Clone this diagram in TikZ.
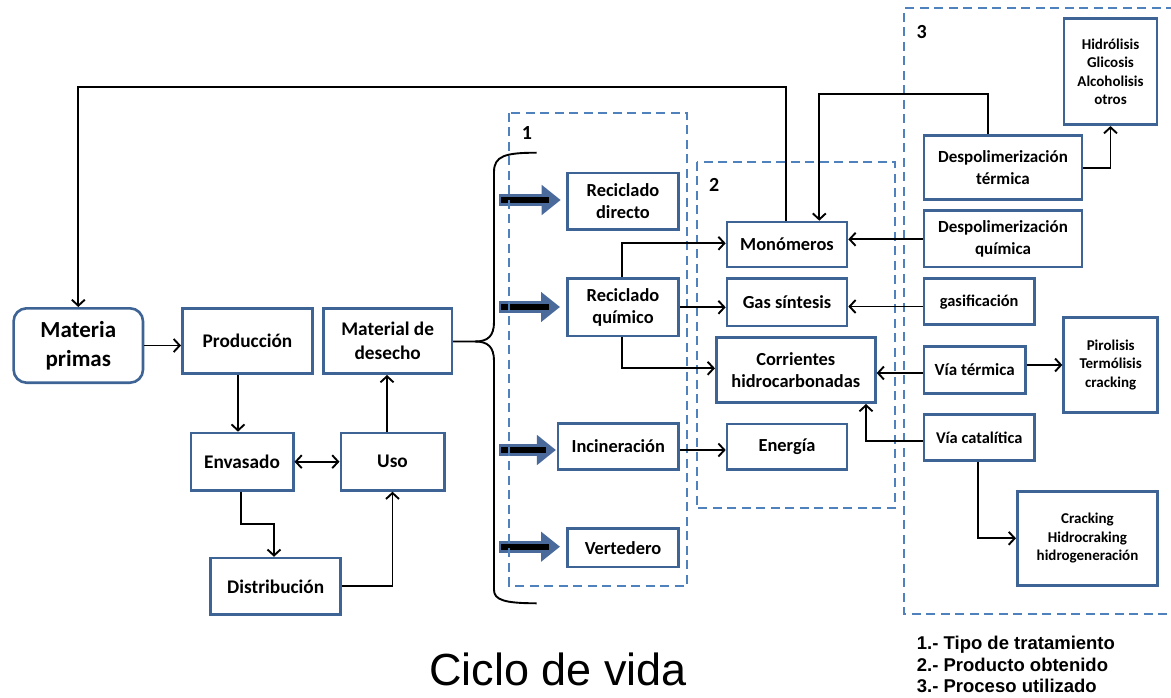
\documentclass[tikz,border=0pt]{standalone}
\usepackage{fontspec}
\setmainfont{Carlito}
\newfontfamily\arialf{Liberation Sans}
\usetikzlibrary{arrows.meta,calc}
\definecolor{boxblue}{HTML}{3E6496}
\definecolor{dashblue}{HTML}{4F81BD}
\definecolor{fatblue}{HTML}{4A6A9C}
\begin{document}
\begin{tikzpicture}[x=1pt,y=-1pt,
  box/.style={draw=boxblue, line width=2.6pt, fill=white, align=center, inner sep=0pt,
    font=\bfseries\fontsize{18.4}{22.5}\selectfont},
  lbox/.style={box, font=\bfseries\fontsize{19.3}{23.5}\selectfont},
  rbox/.style={box, font=\bfseries\fontsize{17}{21.5}\selectfont},
  sbox/.style={box, font=\bfseries\fontsize{15}{18.5}\selectfont},
  sz/.style 2 args={minimum width=#1pt-2.6pt, minimum height=#2pt-2.6pt},
  barb/.tip={Straight Barb[length=6pt,width=13pt,line width=1.9pt]},
  conn/.style={line width=1.9pt, -barb},
  dbox/.style={draw=dashblue, line width=2pt, dash pattern=on 9pt off 5.5pt},
  fatb/.style={line width=12pt, color=fatblue, -{Triangle[length=19pt,width=29pt]}},
  fatin/.style={line width=6pt, color=black},
  lbl/.style={font=\bfseries\fontsize{20}{24}\selectfont, inner sep=0pt},
  legend/.style={font=\arialf\bfseries\fontsize{18.5}{22}\selectfont, anchor=base west, inner sep=0pt},
  title/.style={font=\arialf\fontsize{45}{50}\selectfont, anchor=base, inner sep=0pt}
]
\useasboundingbox (0,0) rectangle (1171,698);

% nodes
\node[box, sz={132}{77}, rounded corners=13pt, font=\bfseries\fontsize{23}{28.5}\selectfont] (mp) at (78.3,345.5) {Materia\\primas};
\node[lbox, sz={133}{68}] (prod) at (247.5,341) {Producción};
\node[lbox, sz={131}{68}] (mdd) at (387.7,341) {Material de\\desecho};
\node[lbox, sz={105}{60}] (env) at (242,461.7) {Envasado};
\node[lbox, sz={106}{60}] (uso) at (392.5,461.7) {Uso};
\node[lbox, sz={132.6}{59}] (dist) at (275.7,586.3) {Distribución};

\node[box, sz={114}{59}] (rd) at (623,201.2) {Reciclado\\directo};
\node[box, sz={114}{60}] (rq) at (623,307.3) {Reciclado\\químico};
\node[box, sz={123.3}{48.4}] (inc) at (618.3,446.5) {Incineración};
\node[box, sz={114}{41}] (ver) at (623,547.8) {Vertedero};

\node[box, sz={122.6}{47.6}] (mono) at (787,244.5) {Monómeros};
\node[box, sz={122.6}{50}] (gas) at (787,302.3) {Gas síntesis};
\node[box, sz={161.7}{68}] (corr) at (795.8,370) {Corrientes\\hidrocarbonadas};
\node[box, sz={122.6}{48.3}] (ener) at (787,446.8) {Energía};

\node[sbox, sz={95.6}{108.7}] (hid) at (1110.5,71.7) {Hidrólisis\\Glicosis\\Alcoholisis\\otros};
\node[rbox, sz={160.6}{66.7}] (dt) at (1003,167.7) {Despolimerización\\térmica};
\node[rbox, sz={160.6}{59}] (dq) at (1003,238.8) {Despolimerización\\química};
\node[rbox, sz={113}{48.7}, font=\bfseries\fontsize{16.4}{20}\selectfont] (gasif) at (979.2,301.7) {gasificación};
\node[rbox, sz={104}{50}] (vt) at (974.7,370) {Vía térmica};
\node[sbox, sz={96.7}{98}] (pir) at (1110.7,365) {Pirolisis\\Termólisis\\cracking};
\node[rbox, sz={113}{48.4}, font=\bfseries\fontsize{16.4}{20}\selectfont] (vc) at (979.2,437.5) {Vía catalítica};
\node[sbox, sz={143}{96.7}] (crack) at (1087.5,538.3) {Cracking\\Hidrocraking\\hidrogeneración};

% fat arrows
\coordinate (f1) at (499,200);
\coordinate (f2) at (499,307);
\coordinate (f3) at (499,450);
\coordinate (f4) at (499,546.7);
\draw[fatb, shorten >=5.3pt] (f1) -- (f1 -| rd.west);
\draw[fatb, shorten >=6pt] (f2) -- (f2 -| rq.west);
\draw[fatb, shorten >=0.7pt] (f3) -- (f3 -| inc.west);
\draw[fatb, shorten >=6pt] (f4) -- (f4 -| ver.west);
\draw[fatin] ($(f1)+(2,0)$) -- ++(48,0);
\draw[fatin] ($(f2)+(2,0)$) -- ++(48,0);
\draw[fatin] ($(f3)+(2,0)$) -- ++(45,0);
\draw[fatin] ($(f4)+(2,0)$) -- ++(48,0);

% dashed groups
\draw[dbox] (509.3,113) rectangle (687.3,585.7);
\draw[dbox] (696.7,162) rectangle (895,508.3);
\draw[dbox] (1175,8.3) -- (904,8.3) -- (904,614) -- (1175,614);
\node[lbl] (n1) at (527,133) {1};
\node[lbl] (n2) at (714.3,185) {2};
\node[lbl] (n3) at (921.7,31.7) {3};

% brace
\coordinate (tip) at (475,341.5);
\draw[line width=1.9pt] (mdd.east |- tip) -- (tip)
  .. controls (488,341.5) and (494,336) .. (494,322) -- (494,172)
  .. controls (494,156) and (505,152.7) .. (536.7,152.7);
\draw[line width=1.9pt] (tip)
  .. controls (488,341.5) and (494,347) .. (494,361) -- (494,590)
  .. controls (494,600) and (505,603.3) .. (536.7,603.3);

% connectors left
\draw[conn] (mp.east) -- (mp.east -| prod.west);
\draw[conn] (prod.south -| 238,0) -- (env.north -| 238,0);
\draw[conn, barb-barb] (env.east) -- (uso.west);
\draw[conn] (uso.north -| 387,0) -- (mdd.south -| 387,0);
\draw[conn] (env.south -| 241,0) |- (274,524) -- (dist.north -| 274,0);
\draw[conn] (dist.east) -| (uso.south);

% top feedback lines
\draw[conn] (mono.north -| 786,0) |- (78.3,87.3) -- (mp.north);
\draw[conn] (dt.north -| 988.3,0) |- (819.3,94.3) -- (mono.north -| 819.3,0);
\draw[conn] (dt.east) -| (hid.south);

% middle connectors
\draw[conn] (rq.north -| 621.7,0) |- (mono.west |- 0,243.3);
\draw[conn] (rq.east) -- (rq.east -| gas.west);
\draw[conn] (rq.south -| 621.7,0) |- (corr.west |- 0,368.3);
\draw[conn] (inc.east |- 0,450) -- (ener.west |- 0,450);

% right connectors
\draw[conn] (dq.west |- 0,239.3) -- (mono.east |- 0,239.3);
\draw[conn] (gasif.west |- 0,306.5) -- (gas.east |- 0,306.5);
\draw[conn] (vt.west |- 0,373) -- (corr.east |- 0,373);
\draw[conn] (vt.east |- 0,365) -- (pir.west |- 0,365);
\draw[conn] (vc.west |- 0,440.7) -| (corr.south -| 866,0);
\draw[conn] (vc.south -| 977.7,0) |- (crack.west);

% legend and title
\node[legend] (lg1) at (916.7,649.3) {1.- Tipo de tratamiento};
\node[legend] (lg2) at (916.7,671) {2.- Producto obtenido};
\node[legend] (lg3) at (916.7,692.7) {3.- Proceso utilizado};
\node[title] (ttl) at (558,685) {Ciclo de vida};
\end{tikzpicture}
\end{document}
